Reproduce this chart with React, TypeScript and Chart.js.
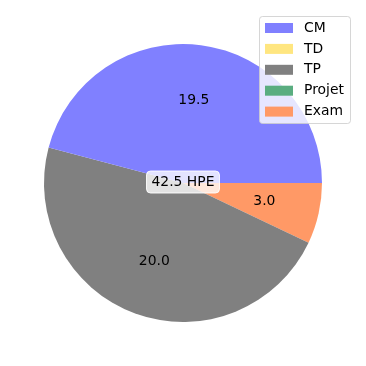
import React, { useEffect, useRef } from "react";
import { Chart, registerables } from "chart.js";

Chart.register(...registerables);

const categories = ["CM", "TD", "TP", "Projet", "Exam"];
const hours = [19.5, 0, 20.0, 0, 3.0];
const colors = ["#8080ff", "#ffe680", "#808080", "#5aad80", "#ff9966"];
const centerLabel = "42.5 HPE";

const FONT = '13.9px "DejaVu Sans"';

function roundRect(ctx: CanvasRenderingContext2D, x: number, y: number, w: number, h: number, r: number) {
  ctx.beginPath();
  ctx.moveTo(x + r, y);
  ctx.lineTo(x + w - r, y);
  ctx.arcTo(x + w, y, x + w, y + r, r);
  ctx.lineTo(x + w, y + h - r);
  ctx.arcTo(x + w, y + h, x + w - r, y + h, r);
  ctx.lineTo(x + r, y + h);
  ctx.arcTo(x, y + h, x, y + h - r, r);
  ctx.lineTo(x, y + r);
  ctx.arcTo(x, y, x + r, y, r);
  ctx.closePath();
}

const overlayPlugin = {
  id: "overlay",
  afterDraw(chart: any) {
    const ctx: CanvasRenderingContext2D = chart.ctx;
    const meta = chart.getDatasetMeta(0);
    const vals = chart.data.datasets[0].data as number[];
    ctx.save();
    ctx.font = FONT;
    ctx.fillStyle = "#000";
    ctx.textAlign = "center";
    ctx.textBaseline = "middle";
    let cx = 0, cy = 0;
    meta.data.forEach((arc: any, i: number) => {
      const p = arc.getProps(["x", "y", "startAngle", "endAngle", "outerRadius"], true);
      cx = p.x; cy = p.y;
      if (!vals[i]) return;
      const mid = (p.startAngle + p.endAngle) / 2;
      const r = p.outerRadius * 0.6;
      ctx.fillText(vals[i].toFixed(1), p.x + r * Math.cos(mid), p.y + r * Math.sin(mid));
    });

    // center label box
    const tw = ctx.measureText(centerLabel).width;
    const bw = tw + 10, bh = 22;
    roundRect(ctx, cx - bw / 2, cy - 12, bw, bh, 4);
    ctx.fillStyle = "rgba(255,255,255,0.78)";
    ctx.fill();
    ctx.strokeStyle = "rgba(255,255,255,0.9)";
    ctx.lineWidth = 1;
    ctx.stroke();
    ctx.fillStyle = "#000";
    ctx.fillText(centerLabel, cx, cy - 1);

    // legend
    const lx = 259.5, ly = 16.5, lw = 91, lh = 107;
    roundRect(ctx, lx, ly, lw, lh, 3);
    ctx.fillStyle = "rgba(255,255,255,0.8)";
    ctx.fill();
    ctx.strokeStyle = "rgba(204,204,204,0.8)";
    ctx.stroke();
    ctx.textAlign = "left";
    categories.forEach((c, i) => {
      const y = 28 + i * 20.9;
      ctx.fillStyle = colors[i];
      ctx.fillRect(265, y - 5, 28, 10);
      ctx.fillStyle = "#000";
      ctx.fillText(c, 304, y);
    });
    ctx.restore();
  },
};

export default function App() {
  const ref = useRef<HTMLCanvasElement | null>(null);
  useEffect(() => {
    if (!ref.current) return;
    const order = [...categories.keys()].reverse();
    const chart = new Chart(ref.current, {
      type: "pie",
      data: {
        labels: order.map((i) => categories[i]),
        datasets: [
          {
            data: order.map((i) => hours[i]),
            backgroundColor: order.map((i) => colors[i]),
            borderWidth: 0,
          },
        ],
      },
      options: {
        responsive: false,
        animation: false,
        devicePixelRatio: 1,
        rotation: 90,
        layout: { padding: 44 },
        plugins: { legend: { display: false }, tooltip: { enabled: false } },
      },
      plugins: [overlayPlugin],
    });
    return () => chart.destroy();
  }, []);
  return (
    <div style={{ position: "absolute", left: 0, top: 0, width: 366, height: 366, background: "#fff" }}>
      <canvas ref={ref} width={366} height={366} />
    </div>
  );
}
